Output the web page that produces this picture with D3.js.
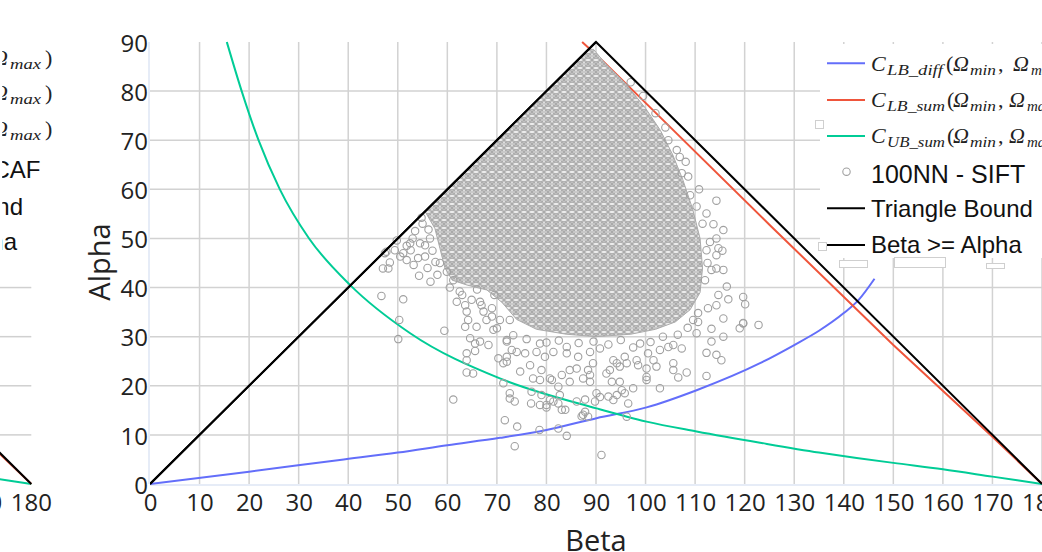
<!DOCTYPE html>
<html><head><meta charset="utf-8">
<script src="https://cdn.jsdelivr.net/npm/d3@7"></script>
<style>body{margin:0;background:#fff;overflow:hidden}svg{display:block}</style>
</head><body><svg id="c" width="1042" height="552"></svg>
<script>
// ---------- data ----------
const xTickValues = [0,10,20,30,40,50,60,70,80,90,100,110,120,130,140,150,160,170,180];
const yTickValues = [0,10,20,30,40,50,60,70,80,90];
const triangleBound = [[0,0],[90,90],[180,0]];
const betaGeAlpha = [[0,0],[90,90]];
const lbDiff = [[0,0],[20,2.5],[38.3,4.9],[50,6.4],[60,7.9],[70.6,9.4],[80,11.0],[90.1,13.4],[100.2,15.6],[110.3,19.1],[123.1,24.6],[130,28.3],[135,31.2],[140,34.8],[143,37.5],[146.2,41.8]];
const lbSum = [[87.2,90],[90.8,86.7],[100,77.6],[125.1,52.7],[150,28.3],[170,9.6],[180,0]];
const ubSum = [[15.5,90],[18.5,80],[21.9,70],[26.2,60],[32.1,50],[40.4,40.5],[52.5,30.7],[70.6,21.5],[90.1,15.4],[100.2,12.7],[110.3,10.7],[123.1,8.4],[135,6.4],[142.6,5.3],[150,4.3],[160,3.0],[170,1.5],[180,0]];
// outline of the densest part of the 100NN - SIFT cloud (points overlap completely there)
const denseCore = [[55.5,55.5],[88.5,88.5],[89.5,88.5],[92,85.5],[96,81.5],[100,76.5],[103,72],[105.5,67],[107.5,62],[109.5,56],[111,50],[111.5,44],[111,39],[109,35.5],[106,33],[102,31.5],[97,30.5],[90,30],[84,30.5],[78,31.5],[74,33.5],[71,37],[68,39.5],[64,40.5],[61,41.5],[59.5,44],[58.5,48],[57.5,52]];
const scatterPoints = [
[47.4,47.0],[49.4,47.6],[48.4,45.1],[47.0,43.9],[48.1,43.9],[51.8,48.5],[52.5,49.0],[51.1,47.0],[51.8,45.6],[54.1,46.0],[55.5,46.3],[54.3,42.4],[46.7,38.3],[51.1,37.6],[50.3,33.4],[50.1,29.5],[59.4,31.2],[61.2,17.2],[47.7,47.3],[53.5,51.5],[55,53],[56.5,50],[57,47.5],[56,44],
[53,50],[54.5,49],[55.5,48.6],[56.2,51.8],[52.6,47.6],[50.5,46.3],[53.2,44.6],[57.6,45.2],[58,42.6],[56.6,41.2],[49.8,49.6],[54.8,54.2],
[59.9,43.2],[61.2,41.5],[62.5,39.2],[61.9,37.1],[63.6,36.4],[64.9,37.5],[63.9,35.1],[64.2,33.4],[63.6,32.0],[65.9,32.0],[64.6,29.7],[65.6,28.6],[66.6,29.0],[68.3,28.3],[65.6,27.1],[63.9,26.6],[63.9,25.2],[63.9,22.7],[65.2,22.5],[67.3,35.1],[67.9,33.4],[69.0,34.1],[69.3,31.4],[70.0,31.7],[70.3,25.6],[71.3,24.6],[72.0,29.0],[71.3,20.5],[72.6,18.5],[73.6,16.8],[71.6,13.0],[66.6,37.1],[66.9,36.4],[69.0,35.8],[70.6,33.4],[72.6,33.4],[73.3,30.3],[72.0,25.9],[73.0,27.3],
[74.7,22.9],[72.6,17.4],[77.0,18.8],[76.9,16.4],[79.0,18.1],[78.7,16.1],[80.0,16.1],[80.7,17.1],[81.4,16.8],[80.0,15.6],
[82.4,19.8],[83.1,22.2],[84.7,20.8],[82.7,18.1],[83.1,15.1],[83.8,15.1],[82.4,16.4],[86.1,16.8],[87.8,17.2],[88.8,22.2],[88.8,20.8],[90.1,18.5],[90.8,17.7],[89.8,16.8],[87.4,14.1],[88.4,13.7],[87.1,13.8],[92.5,17.8],[93.5,17.1],[94.2,18.1],[95.2,19.1],[95.8,18.5],[96.5,16.4],[96.2,13.7],[97.5,19.5],[93.2,20.8],[94.8,20.8],[92.1,22.5],[102.9,19.5],[100.2,21.8],[100.2,21.2],[106.6,21.7],[108.3,22.7],[105.6,23.2],[105.6,24.6],[112.3,22.0],[112.3,26.7],[114.3,26.3],[115.3,25.2],[113.3,29.0],[115.7,30.0],[119.0,31.7],[119.7,32.8],[107.3,27.6],[105.6,28.3],[101.6,25.2],[102.2,23.9],[98.5,24.2],[100.2,23.5],[96.2,24.6],[94.2,24.6],[92.8,23.2],[94.8,23.9],[89.4,24.6],[88.4,23.2],[87.4,21.5],[86.1,23.5],[84.7,23.2],[80.7,21.5],[81.1,21.2],[78.7,21.2],[77.3,21.5],[79.0,23.2],[76.7,24.2],[72.0,24.9],[74.1,11.7],[73.6,7.7],[78.6,11.0],[82.4,11.3],[84.1,9.8],[91.1,5.9],[87.8,14.7],
[72.0,29.3],[74.0,26.9],[75.7,26.6],[78.0,26.9],[79.7,25.9],[81.4,26.9],[84.1,26.6],[86.4,25.9],[88.8,26.9],[90.8,27.6],[93.5,25.2],[95.8,25.9],[98.2,25.2],[100.5,26.6],[102.9,27.3],[104.6,27.9],[84.1,27.9],[78.7,28.6],[98.9,28.6],
[76,29.5],[80,28.8],[82.5,29.2],[86.5,28.7],[89.5,29.0],[92.5,28.4],[95,29.3],[97.5,27.8],[101,28.9],[103.5,30.0],[106.5,30.4],[108.5,31.8],[69.5,38.5],[66,39.6],[63,38.5],[60.5,40],[58.5,45],
[112.3,55.1],[113.7,52.9],[114.3,50.0],[115.7,51.7],[112.3,47.6],[114.3,46.6],[115.7,43.6],[116.4,40.2],[116.7,37.6],[114.3,36.4],[112.6,35.8],[115.7,33.7],[119.7,38.1],[120.1,36.6],[119.7,32.7],[122.8,32.4],[113.3,31.6],[110.3,30.7],[109.6,33.4],[110.6,34.8],
[104.6,70.0],[106.3,68.0],[106.9,66.6],[108.1,65.6],[107.3,63.3],[108.6,62.6],[109.0,58.8],[110.3,56.5],[114.3,57.7],[113.0,49.3],[114.7,48.0],[115.5,47.5],[113.3,43.6],[114.3,43.9],[114.7,38.5],[110.6,33.0],[112,41.5],[112.5,45],[111.5,53],[110.8,60],
[97,81.8],[99.5,79],[102,75.5],[104,72.6]
];
const legendMath = [
  {sub:"LB_diff", color:"#636efa"},
  {sub:"LB_sum", color:"#ef553b"},
  {sub:"UB_sum", color:"#00cc96"}
];
const legendPlain = ["100NN - SIFT","Triangle Bound","Beta >= Alpha"];
const leftLegendPlain = ["100NN - DeCAF","Triangle Bound","Beta >= Alpha"];

// ---------- setup ----------
const svg = d3.select("#c");
const x = d3.scaleLinear().domain([0,180]).range([150,1042]);
const y = d3.scaleLinear().domain([0,90]).range([484,42]);
const xLeft = d3.scaleLinear().domain([0,180]).range([31.3-892,31.3]); // fragment of neighbouring chart
const defs = svg.append("defs");
const pat = defs.append("pattern").attr("id","dense").attr("patternUnits","userSpaceOnUse").attr("width",8).attr("height",8);
pat.append("rect").attr("width",8).attr("height",8).attr("fill","#ececec");
[[0,0],[8,0],[0,8],[8,8],[4,4],[4,-1],[4,9]].forEach(p=>pat.append("circle").attr("cx",p[0]).attr("cy",p[1]).attr("r",3.5).attr("fill","none").attr("stroke","#a8a8a8").attr("stroke-width",1));
defs.append("clipPath").attr("id","plotclip").append("rect").attr("x",150).attr("y",0).attr("width",892).attr("height",490);
defs.append("clipPath").attr("id","leftclip").append("rect").attr("x",0).attr("y",262).attr("width",33).attr("height",230);
defs.append("clipPath").attr("id","leftlegclip").append("rect").attr("x",2.2).attr("y",0).attr("width",80).attr("height",262);

// ---------- left neighbouring chart fragment ----------
const lf = svg.append("g");
lf.selectAll("line.lg").data([10,20,30,40]).join("line")
  .attr("x1",0).attr("x2",xLeft(180)).attr("y1",d=>y(d)).attr("y2",d=>y(d))
  .attr("stroke","#d0d0d0").attr("stroke-width",1.5);
const lineGen = (xs)=>d3.line().x(d=>xs(d[0])).y(d=>y(d[1]));
const lfc = lf.append("g").attr("clip-path","url(#leftclip)");
lfc.append("path").attr("d",lineGen(xLeft).curve(d3.curveMonotoneX)(ubSum)).attr("fill","none").attr("stroke","#00cc96").attr("stroke-width",2);
lfc.append("path").attr("d",lineGen(xLeft)(lbSum)).attr("fill","none").attr("stroke","#ef553b").attr("stroke-width",2);
lfc.append("path").attr("d",lineGen(xLeft)(triangleBound)).attr("fill","none").attr("stroke","#000").attr("stroke-width",2);
lf.append("text").attr("x",xLeft(170)).attr("y",511).attr("text-anchor","middle").attr("font-family","Open Sans").attr("font-size",24).attr("fill","#222").text("170");
lf.append("text").attr("x",xLeft(180)).attr("y",511).attr("text-anchor","middle").attr("font-family","Open Sans").attr("font-size",24).attr("fill","#222").text("180");
const lfl = lf.append("g").attr("clip-path","url(#leftlegclip)");
[65,100,136].forEach((b,i)=>{
  const t = lfl.append("text").attr("y",b).attr("font-family","Liberation Serif").attr("fill","#222");
  t.append("tspan").attr("x",-8).attr("font-size",22).attr("font-style","italic").text("Ω");
  t.append("tspan").attr("x",10).attr("dy",4).attr("font-size",15).attr("font-style","italic").attr("textLength",31).attr("lengthAdjust","spacingAndGlyphs").text("max");
  t.append("tspan").attr("x",45).attr("dy",-4).attr("font-size",22).text(")");
});
[[178,40.5],[215,23],[250,17]].forEach((p,i)=>{
  lfl.append("text").attr("x",p[1]).attr("y",p[0]).attr("text-anchor","end").attr("font-family","Liberation Sans").attr("font-size",24).attr("fill","#111").text(leftLegendPlain[i]);
});

// ---------- main chart ----------
const g = svg.append("g");
g.selectAll("line.vg").data(xTickValues.filter(d=>d>0)).join("line")
  .attr("x1",d=>x(d)).attr("x2",d=>x(d)).attr("y1",y(90)).attr("y2",y(0))
  .attr("stroke","#d2d2d2").attr("stroke-width",1.5);
g.selectAll("line.hg").data(yTickValues.filter(d=>d>0 && d<90)).join("line")
  .attr("x1",x(0)).attr("x2",x(180)).attr("y1",d=>y(d)).attr("y2",d=>y(d))
  .attr("stroke","#d2d2d2").attr("stroke-width",1.5);
g.append("line").attr("x1",x(0)).attr("x2",x(180)).attr("y1",y(0)+1).attr("y2",y(0)+1).attr("stroke","#e6ecf7").attr("stroke-width",2);
g.append("line").attr("x1",x(0)-1).attr("x2",x(0)-1).attr("y1",y(90)).attr("y2",y(0)).attr("stroke","#e6ecf7").attr("stroke-width",2);

const pg = g.append("g").attr("clip-path","url(#plotclip)");
const mk = ()=>d3.line().x(d=>x(d[0])).y(d=>y(d[1]));
pg.append("path").attr("d",mk().curve(d3.curveMonotoneX)(lbDiff)).attr("fill","none").attr("stroke","#636efa").attr("stroke-width",2);
pg.append("path").attr("d",mk()(lbSum)).attr("fill","none").attr("stroke","#ef553b").attr("stroke-width",2);
pg.append("path").attr("d",mk().curve(d3.curveMonotoneX)(ubSum)).attr("fill","none").attr("stroke","#00cc96").attr("stroke-width",2);
pg.append("path").attr("d",mk().curve(d3.curveLinearClosed)(denseCore))
  .attr("fill","url(#dense)").attr("stroke","#ababab").attr("stroke-width",1);
pg.selectAll("circle.pt").data(scatterPoints).join("circle")
  .attr("cx",d=>x(d[0])).attr("cy",d=>y(d[1])).attr("r",3.7)
  .attr("fill","none").attr("stroke","#a0a0a0").attr("stroke-width",1.1);
pg.append("path").attr("d",mk()(triangleBound)).attr("fill","none").attr("stroke","#000").attr("stroke-width",2);
pg.append("path").attr("d",mk()(betaGeAlpha)).attr("fill","none").attr("stroke","#000").attr("stroke-width",2);

const ax = g.append("g").attr("transform",`translate(0,${y(0)})`)
  .call(d3.axisBottom(x).tickValues(xTickValues).tickFormat(d3.format("d")).tickSize(0).tickPadding(10));
ax.select(".domain").remove();
ax.selectAll("text").attr("font-family","Open Sans").attr("font-size",24).attr("fill","#222");
const ay = g.append("g").attr("transform",`translate(${x(0)},0)`)
  .call(d3.axisLeft(y).tickValues(yTickValues).tickFormat(d3.format("d")).tickSize(0).tickPadding(2));
ay.select(".domain").remove();
ay.selectAll("text").attr("font-family","Open Sans").attr("font-size",24).attr("fill","#222").attr("dy","0.38em");
g.append("text").attr("x",(x(0)+x(180))/2).attr("y",551).attr("text-anchor","middle").attr("font-family","Open Sans").attr("font-size",29).attr("fill","#222").text("Beta");
g.append("text").attr("transform",`translate(110,${(y(0)+y(90))/2 -1}) rotate(-90)`).attr("text-anchor","middle").attr("font-family","Open Sans").attr("font-size",29).attr("fill","#222").text("Alpha");

// ---------- legend ----------
const lg = svg.append("g");
lg.append("rect").attr("x",820).attr("y",44).attr("width",222).attr("height",214).attr("fill","#fff");
const rowsY = [63.3,100,136,171.7,208.3,245];
legendMath.forEach((m,i)=>{
  const yy = rowsY[i];
  lg.append("line").attr("x1",827).attr("x2",865).attr("y1",yy).attr("y2",yy).attr("stroke",m.color).attr("stroke-width",2);
  const t = lg.append("text").attr("y",yy+7.4).attr("font-family","Liberation Serif").attr("fill","#222");
  t.append("tspan").attr("x",871).attr("font-size",22).attr("font-style","italic").text("C");
  t.append("tspan").attr("x",887).attr("dy",4).attr("font-size",15).attr("font-style","italic").attr("textLength",i===0?56:58).attr("lengthAdjust","spacingAndGlyphs").text(m.sub);
  t.append("tspan").attr("x",i===0?946:947).attr("dy",-4).attr("font-size",22).text("(");
  t.append("tspan").attr("x",953).attr("font-size",22).attr("font-style","italic").text("Ω");
  t.append("tspan").attr("x",970).attr("dy",4).attr("font-size",15).attr("font-style","italic").attr("textLength",26).attr("lengthAdjust","spacingAndGlyphs").text("min");
  t.append("tspan").attr("x",998).attr("dy",-4).attr("font-size",22).text(",");
  t.append("tspan").attr("x",i===0?1013:1009).attr("font-size",22).attr("font-style","italic").text("Ω");
  t.append("tspan").attr("x",i===0?1031:1027).attr("dy",4).attr("font-size",15).attr("font-style","italic").text("max");
  t.append("tspan").attr("dy",-4).attr("font-size",22).text(")");
});
lg.append("circle").attr("cx",846.5).attr("cy",rowsY[3]).attr("r",3.7).attr("fill","none").attr("stroke","#a0a0a0").attr("stroke-width",1.1);
[rowsY[4],rowsY[5]].forEach(yy=>lg.append("line").attr("x1",827).attr("x2",865).attr("y1",yy).attr("y2",yy).attr("stroke","#000").attr("stroke-width",2));
legendPlain.forEach((s,i)=>{
  lg.append("text").attr("x",871).attr("y",rowsY[3+i]+ (i===0?11:8.4)).attr("font-family","Liberation Sans").attr("font-size",i===0?25:24).attr("fill","#111").text(s);
});
[[815,120,8,8],[818,242,8,8],[839,260,28,7],[894,257,51,10],[986,263,18,5]].forEach(r=>{
  lg.append("rect").attr("x",r[0]+0.5).attr("y",r[1]+0.5).attr("width",r[2]).attr("height",r[3]).attr("fill","#fff").attr("stroke","#cfcfcf").attr("stroke-width",1);
});
</script></body></html>
